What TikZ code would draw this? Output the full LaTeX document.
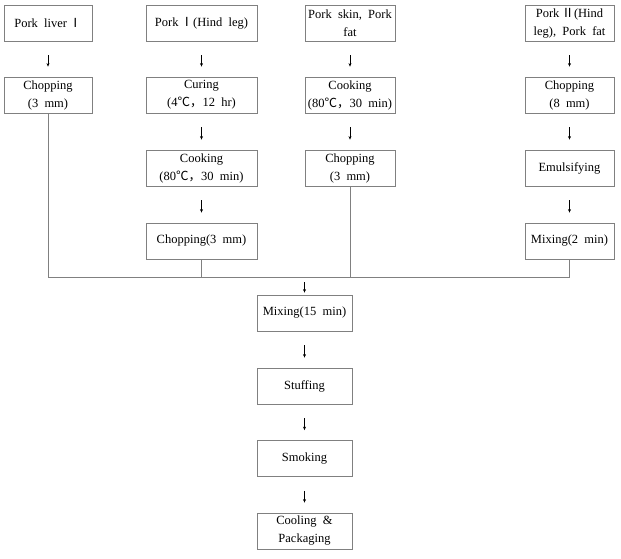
\documentclass[tikz,border=0pt]{standalone}
\usepackage{fontspec}
\setmainfont{Liberation Serif}
\newfontfamily\cjk{Noto Sans CJK KR}
\usetikzlibrary{arrows.meta}
\newcommand{\romi}{{\cjk Ⅰ}}
\newcommand{\romii}{{\cjk Ⅱ}}
\newcommand{\degc}{{\cjk ℃}}
\newcommand{\fcm}{{\cjk ，}}

\begin{document}
\begin{tikzpicture}[x=1pt,y=-1pt,
 box/.style={draw=black!50,line width=.8pt,minimum height=36pt,inner sep=0pt,align=center,font=\fontsize{12.5}{18}\selectfont},
 flow/.style={-{Stealth[length=3.5pt,width=3pt]},line width=.5pt,shorten <=14pt,shorten >=10pt},
 link/.style={draw=black!50,line width=.8pt}]
\useasboundingbox(0,0)rectangle(621,558);
% raw materials
\node[box,minimum width=88pt](liver)at(48,23){Pork~~liver\,\romi};
\node[box,minimum width=111pt](hind)at(201.5,23){Pork\,\romi(Hind~~leg)};
\node[box,minimum width=90pt](skin)at(350,23){Pork~~skin,~~Pork\\fat};
\node[box,minimum width=89pt](hindii)at(569.5,23){Pork\,\romii(Hind\\leg),~~Pork~~fat};
% first steps
\node[box,minimum width=88pt](chopa)at(48,95){Chopping\\(3~~mm)};
\node[box,minimum width=111pt](cure)at(201.5,95){Curing\\(4\degc\fcm12~~hr)};
\node[box,minimum width=90pt](cookc)at(350,95){Cooking\\(80\degc\fcm30~~min)};
\node[box,minimum width=89pt](chopd)at(569.5,95){Chopping\\(8~~mm)};
\node[box,minimum width=111pt](cookb)at(201.5,168){Cooking\\(80\degc\fcm30~~min)};
\node[box,minimum width=90pt](chopc)at(350,168){Chopping\\(3~~mm)};
\node[box,minimum width=89pt](emul)at(569.5,168){Emulsifying};
\node[box,minimum width=111pt](chopb)at(201.5,241){Chopping(3~~mm)};
\node[box,minimum width=89pt](mixd)at(569.5,241){Mixing(2~~min)};
% main line
\node[box,minimum width=95pt](mix)at(304.5,313){Mixing(15~~min)};
\node[box,minimum width=95pt](stuff)at(304.5,386){Stuffing};
\node[box,minimum width=95pt](smoke)at(304.5,458.5){Smoking};
\node[box,minimum width=95pt](pack)at(304.5,531){Cooling~~\&\\Packaging};
\coordinate(bus)at(304.5,277);
\draw[flow](liver)--(chopa);\draw[flow](hind)--(cure);\draw[flow](cure)--(cookb);\draw[flow](cookb)--(chopb);
\draw[flow](skin)--(cookc);\draw[flow](cookc)--(chopc);
\draw[flow](hindii)--(chopd);\draw[flow](chopd)--(emul);\draw[flow](emul)--(mixd);
\draw[link](chopa.south)|-(bus);\draw[link](mixd.south)|-(bus);
\draw[link](chopb.south)--(chopb.south|-bus);\draw[link](chopc.south)--(chopc.south|-bus);
\draw[flow,shorten <=5pt,shorten >=2pt](bus)--(mix);
\draw[flow](mix)--(stuff);\draw[flow](stuff)--(smoke);\draw[flow](smoke)--(pack);
\end{tikzpicture}
\end{document}
